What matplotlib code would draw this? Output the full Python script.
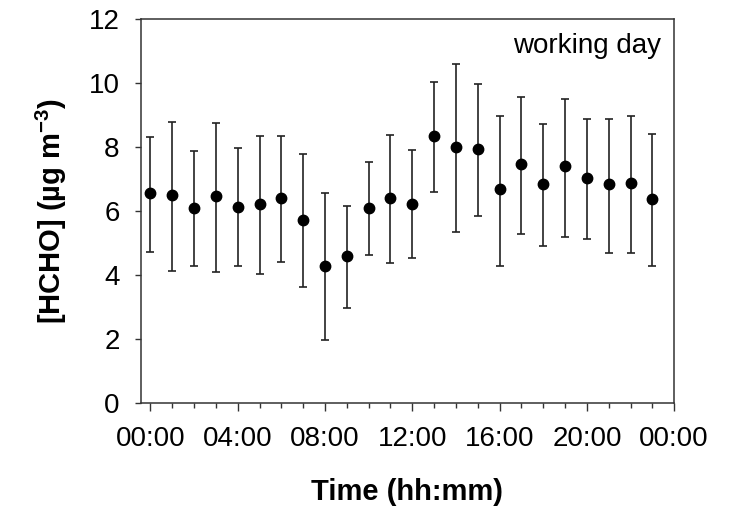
import numpy as np
import matplotlib
matplotlib.use('Agg')
import matplotlib.pyplot as plt
from matplotlib.ticker import MultipleLocator

plt.rcParams['font.family'] = ['Liberation Sans', 'DejaVu Sans']
plt.rcParams['mathtext.fontset'] = 'custom'
plt.rcParams['mathtext.rm'] = 'Liberation Sans'
plt.rcParams['mathtext.bf'] = 'Liberation Sans:bold'

# hourly means and error bar ends (working day)
hours = list(range(24))
mean = [6.56, 6.50, 6.11, 6.48, 6.14, 6.22, 6.42, 5.73, 4.30, 4.60, 6.09, 6.42,
        6.24, 8.36, 8.01, 7.95, 6.68, 7.47, 6.86, 7.40, 7.04, 6.84, 6.88, 6.38]
upper = [8.31, 8.79, 7.89, 8.77, 7.98, 8.36, 8.36, 7.78, 6.58, 6.16, 7.53, 8.40,
         7.90, 10.05, 10.61, 9.99, 8.99, 9.57, 8.73, 9.52, 8.90, 8.90, 8.99, 8.42]
lower = [4.72, 4.13, 4.27, 4.11, 4.27, 4.03, 4.41, 3.63, 1.96, 2.97, 4.62, 4.39,
         4.53, 6.60, 5.36, 5.84, 4.29, 5.30, 4.91, 5.20, 5.12, 4.70, 4.70, 4.27]
xtick_labels = ['00:00', '04:00', '08:00', '12:00', '16:00', '20:00', '00:00']

mean = np.array(mean)
err = [mean - np.array(lower), np.array(upper) - mean]

fig = plt.figure(figsize=(7.36, 5.12), dpi=100)
ax = fig.add_axes([0.191, 0.213, 0.725, 0.749])

ax.errorbar(hours, mean, yerr=err, fmt='o', color='black', ms=7.5,
            ecolor='#222222', elinewidth=1.2, capsize=3, capthick=1.2)

ax.set_xlim(-0.45, 24)
ax.set_ylim(0, 12)
ax.set_xticks(range(0, 25, 4))
ax.set_xticklabels(xtick_labels)
ax.xaxis.set_minor_locator(MultipleLocator(1))
ax.yaxis.set_major_locator(MultipleLocator(2))
ax.tick_params(axis='both', which='major', labelsize=20, direction='out', width=1, color='#333333')
ax.tick_params(axis='x', which='major', length=6, pad=10.5)
ax.tick_params(axis='x', which='minor', length=3.5, width=1, color='#333333')
ax.tick_params(axis='y', which='major', length=4, pad=11)
for s in ax.spines.values():
    s.set_linewidth(1.1)
    s.set_color('#333333')

ax.set_xlabel('Time (hh:mm)', fontsize=21, fontweight='bold', labelpad=19)
ax.set_ylabel(r'[HCHO] (µg m$^{\mathbf{-3}}$)', fontsize=21, fontweight='bold', labelpad=14)
ax.text(0.975, 0.965, 'working day', transform=ax.transAxes, ha='right', va='top', fontsize=20)

fig.savefig('out.png', dpi=100)
